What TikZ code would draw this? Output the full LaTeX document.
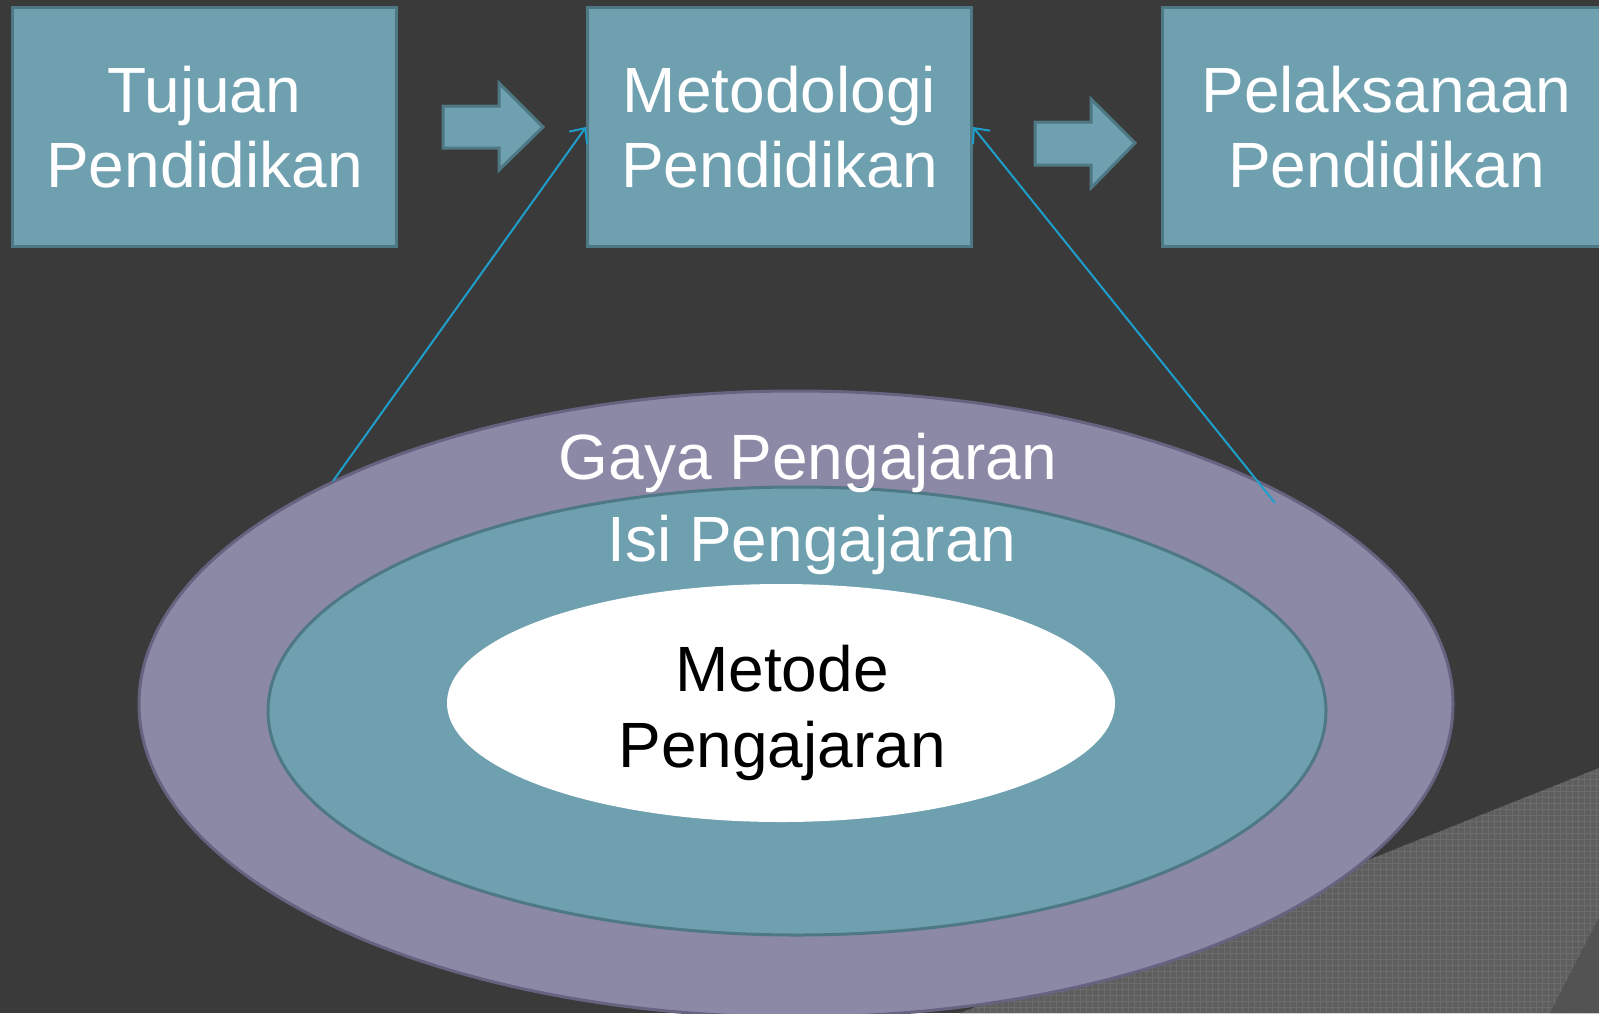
\documentclass[tikz,border=0pt]{standalone}
\usepackage{fontspec}
\setmainfont{Liberation Sans}
\usepackage{xcolor}
\usepackage{tikz}
\usetikzlibrary{positioning}
\usetikzlibrary{shapes.geometric}
\usetikzlibrary{arrows.meta}
\usetikzlibrary{patterns}

\definecolor{bgdark}{HTML}{3A3A3A}
\definecolor{boxfill}{HTML}{6EA0AF}
\definecolor{boxline}{HTML}{4E7884}
\definecolor{ringfill}{HTML}{8C89A6}
\definecolor{ringline}{HTML}{666380}
\definecolor{linkblue}{HTML}{1E9FCB}
\definecolor{shadegray}{HTML}{5E5E5E}
\definecolor{shadeline}{HTML}{6C6C6C}
\definecolor{shadedark}{HTML}{535353}

\tikzset{
  stage/.style={rectangle, draw=boxline, fill=boxfill, line width=1.5pt,
    text=white, align=center, font=\fontsize{32}{37.5}\selectfont,
    minimum width=192pt, minimum height=119.5pt, inner sep=0pt},
  flowarrow/.style={draw=boxline, fill=boxfill, line width=1.5pt},
  ring/.style={ellipse, line width=1.5pt, inner sep=0pt},
  lbl/.style={font=\fontsize{32}{37.5}\selectfont, inner sep=0pt},
  feed/.style={draw=linkblue, line width=1pt,
    -{Straight Barb[length=6pt, width=11pt]}}
}

\begin{document}
\begin{tikzpicture}[x=0.5pt, y=-0.5pt]

  \clip (0,0) rectangle (1599,1013);
  \fill[bgdark] (0,0) rectangle (1599,1013);

  % Background shading
  \fill[shadegray] (1599,768) -- (1363,862) -- (960,1013) -- (1599,1013) -- cycle;
  \fill[pattern=grid, pattern color=shadeline] (1599,768) -- (1363,862) -- (960,1013) -- (1599,1013) -- cycle;
  \fill[shadedark] (1599,917) -- (1550,1013) -- (1599,1013) -- cycle;

  % Define nodes
  \node[stage] (tujuan) at (204.5,127) {Tujuan\\Pendidikan};
  \node[stage, right=94pt of tujuan] (metodologi) {Metodologi\\Pendidikan};
  \node[stage, right=94pt of metodologi, minimum width=224pt] (pelaksanaan) {Pelaksanaan\\Pendidikan};

  % Flow arrows
  \draw[flowarrow] (443,106) -- (499,106) -- (499,83) -- (543,127) -- (499,170) -- (499,148) -- (443,148) -- cycle;
  \draw[flowarrow] (1035,122) -- (1091,122) -- (1091,99) -- (1135,143) -- (1091,188) -- (1091,165) -- (1035,165) -- cycle;

  % Rings
  \node[ring, draw=ringline, fill=ringfill, minimum width=657pt, minimum height=313pt] (gaya) at (796,704) {};
  \node[ring, draw=boxline, fill=boxfill, minimum width=529pt, minimum height=224pt] (isi) at (797,711) {};
  \node[ring, fill=white, minimum width=334pt, minimum height=119pt] (metode) at (781,703) {};

  \node[lbl, text=white, anchor=base] (gayatxt) at (808,479) {Gaya Pengajaran};
  \node[lbl, text=white, anchor=base] (isitxt) at (812,561) {Isi Pengajaran};
  \node[lbl, anchor=base] (metodetxt) at (782,691) {Metode};
  \node[lbl, anchor=base] (pengajarantxt) at (782,767) {Pengajaran};

  % Connect nodes
  \coordinate (gayaleft) at (333,481);
  \coordinate (gayaright) at (1275,503);
  \draw[feed] (gayaleft) -- (metodologi.west);
  \draw[feed] (gayaright) -- (metodologi.east);

\end{tikzpicture}
\end{document}
